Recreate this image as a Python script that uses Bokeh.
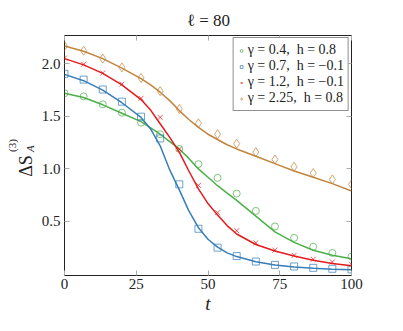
import math
from bokeh.plotting import figure
from bokeh.layouts import row, column
from bokeh.models import (Range1d, FixedTicker, LinearAxis, Label, Legend, LegendItem,
                          CustomLabelingPolicy)
from bokeh.embed import file_html
from bokeh.resources import INLINE

# ---- data ----
t_mark = [0, 6.67, 13.33, 20, 26.67, 33.33, 40, 46.67, 53.33, 60, 66.67, 73.33, 80, 86.67, 93.33, 100]
g04_mark = [1.72, 1.69, 1.615, 1.535, 1.44, 1.33, 1.19, 1.045, 0.915, 0.765, 0.60, 0.452, 0.343, 0.259, 0.20, 0.165]
g07_mark = [1.905, 1.85, 1.756, 1.64, 1.497, 1.29, 0.853, 0.43, 0.25, 0.17, 0.118, 0.086, 0.071, 0.058, 0.049, 0.043]
g12_mark = [2.055, 1.997, 1.913, 1.807, 1.672, 1.49, 1.187, 0.843, 0.583, 0.412, 0.296, 0.227, 0.177, 0.14, 0.114, 0.093]
g225_mark = [2.17, 2.125, 2.05, 1.966, 1.866, 1.74, 1.57, 1.434, 1.33, 1.24, 1.16, 1.09, 1.02, 0.96, 0.90, 0.853]

t_line = [0, 6.67, 13.33, 20, 26.67, 30, 33.33, 36.67, 40, 43.33, 46.67, 50, 53.33, 56.67, 60, 66.67, 73.33, 80, 86.67, 93.33, 100]
g04_line = [1.72, 1.68, 1.61, 1.53, 1.45, 1.39, 1.33, 1.26, 1.19, 1.10, 1.00, 0.92, 0.84, 0.77, 0.70, 0.55, 0.40, 0.30, 0.225, 0.177, 0.145]
g07_line = [1.90, 1.84, 1.75, 1.63, 1.49, 1.38, 1.22, 0.99, 0.80, 0.60, 0.44, 0.33, 0.255, 0.20, 0.165, 0.115, 0.085, 0.066, 0.053, 0.045, 0.04]
g12_line = [2.05, 1.99, 1.91, 1.80, 1.66, 1.56, 1.43, 1.30, 1.16, 0.98, 0.81, 0.67, 0.56, 0.46, 0.38, 0.28, 0.218, 0.17, 0.13, 0.10, 0.077]
g225_line = [2.17, 2.12, 2.05, 1.96, 1.86, 1.80, 1.73, 1.65, 1.555, 1.47, 1.395, 1.33, 1.28, 1.23, 1.19, 1.12, 1.05, 0.98, 0.92, 0.86, 0.79]

labels = ["γ = 0.4,  h = 0.8", "γ = 0.7,  h = −0.1", "γ = 1.2,  h = −0.1", "γ = 2.25,  h = 0.8"]
colors = ["#4daf4a", "#377eb8", "#e41a1c", "#c1843e"]
markers = ["circle", "square", "x", "diamond"]
x_ticks = [0, 25, 50, 75, 100]
y_ticks = [0.5, 1.0, 1.5, 2.0]
title_text = "ℓ = 80"

SERIF = "Liberation Serif"
INK = "#222222"

LW = 38    # side strip for y-axis label
TH = 31    # top strip for the title
PW = 349   # main figure width
PH = 297   # main figure height
TOP, BOT = 2, 53   # main figure top / bottom borders (frame spans page y 33..275)


def bare(fig):
    fig.axis.visible = False
    fig.grid.visible = False
    fig.outline_line_color = None


p = figure(width=PW, height=PH, output_backend="svg", toolbar_location=None,
           x_range=Range1d(0, 100), y_range=Range1d(-0.015, 2.27),
           min_border_left=63 - LW, min_border_right=36, min_border_top=TOP, min_border_bottom=BOT)
p.xgrid.visible = False
p.ygrid.visible = False
p.outline_line_color = INK
p.outline_line_width = 1

for ax, ticks in ((p.xaxis[0], x_ticks), (p.yaxis[0], y_ticks)):
    ax.ticker = FixedTicker(ticks=ticks)
    ax.axis_line_color = None
    ax.major_tick_in = 5
    ax.major_tick_out = 0
    ax.major_tick_line_color = "#aaaaaa"
    ax.minor_tick_line_color = None
    ax.major_label_text_font = SERIF
    ax.major_label_text_font_size = "15px"
    ax.major_label_text_color = INK
p.yaxis[0].major_label_overrides = {v: f"{v:.1f}" for v in y_ticks}
p.xaxis[0].major_label_standoff = 3
p.yaxis[0].major_label_standoff = 4
p.xaxis[0].axis_label = "t"
p.xaxis[0].axis_label_text_font = SERIF
p.xaxis[0].axis_label_text_font_style = "italic"
p.xaxis[0].axis_label_text_font_size = "19px"
p.xaxis[0].axis_label_text_color = INK
p.xaxis[0].axis_label_standoff = 1

for loc, ticks in (("right", y_ticks), ("above", x_ticks)):
    ax = LinearAxis(ticker=FixedTicker(ticks=ticks), axis_line_color=None,
                    major_tick_in=5, major_tick_out=0, major_tick_line_color="#aaaaaa",
                    minor_tick_line_color=None, major_label_standoff=0,
                    major_label_text_font_size="1px",
                    major_label_policy=CustomLabelingPolicy(code="return new Set()"))
    p.add_layout(ax, loc)

series_line = [g04_line, g07_line, g12_line, g225_line]
series_mark = [g04_mark, g07_mark, g12_mark, g225_mark]
items = []
for lab, col, mk, yl, ym in zip(labels, colors, markers, series_line, series_mark):
    p.line(t_line, yl, line_color=col, line_width=1.5)
    r = p.scatter(t_mark, ym, marker=mk, size=7 if mk != "diamond" else 9,
                  line_color=col, fill_color=None, line_width=0.9, line_alpha=0.8)
    items.append(LegendItem(label=lab, renderers=[r]))

leg = Legend(items=items, location="top_right")
leg.label_text_font = SERIF
leg.label_text_font_size = "14px"
leg.label_text_color = INK
leg.label_standoff = 3
leg.glyph_width = 7
leg.glyph_height = 15
leg.label_height = 15
leg.spacing = 0
leg.padding = 4
leg.margin = 2
leg.border_line_color = INK
leg.border_line_width = 1
leg.background_fill_alpha = 1
p.add_layout(leg)

# side strip carrying the rotated y-axis label.  Its frame is aligned with the
# main frame by the row layout (page y 33..275), so y = -page_y there.
q = figure(width=LW, height=PH, output_backend="svg", toolbar_location=None,
           x_range=Range1d(0, LW), y_range=Range1d(-275, -33), min_border=0)
bare(q)
q.add_layout(Label(x=25, y=-175.5, text="ΔS", angle=math.pi / 2,
                   text_font=SERIF, text_font_size="18px",
                   text_align="left", text_baseline="alphabetic", text_color=INK))
q.add_layout(Label(x=11.5, y=-150.5, text="(3)", angle=math.pi / 2,
                   text_font=SERIF, text_font_size="11px",
                   text_align="left", text_baseline="alphabetic", text_color=INK))
q.add_layout(Label(x=29, y=-150.5, text="A", angle=math.pi / 2,
                   text_font=SERIF, text_font_size="11px", text_font_style="italic",
                   text_align="left", text_baseline="alphabetic", text_color=INK))

# top strip carrying the title
tw = LW + PW
t = figure(width=tw, height=TH, output_backend="svg", toolbar_location=None,
           x_range=Range1d(0, tw), y_range=Range1d(0, TH), min_border=0)
bare(t)
t.add_layout(Label(x=208, y=TH - 20, text=title_text, text_font=SERIF, text_font_size="17px",
                   text_align="center", text_baseline="alphabetic", text_color=INK))

layout = column(t, row(q, p, spacing=0), spacing=0)
open("out.html", "w").write(file_html(layout, INLINE))
